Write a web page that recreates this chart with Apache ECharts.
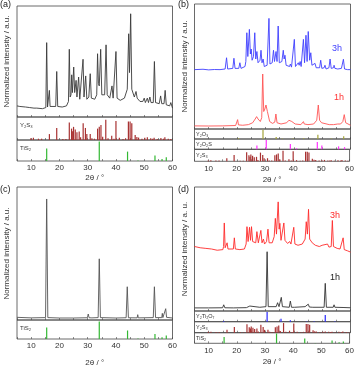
<!DOCTYPE html>
<html><head><meta charset="utf-8">
<script src="https://cdn.jsdelivr.net/npm/echarts@6/dist/echarts.min.js"></script>
<style>html,body{margin:0;padding:0;background:#fff}#c{width:357px;height:368px}</style>
</head><body><div id="c"></div><script>
// ---------- data (2θ in degrees, normalized intensity) ----------
const tickLabels = [10, 20, 30, 40, 50, 60];

const patternA = [[5,10],[6,9.5],[8,9],[9.5,8.5],[9.7,10],[9.9,8.5],[11,8],[12,8],[12.2,9.5],[12.4,7.5],[14,7.5],[15.2,8.5],[15.5,67],[15.8,9],[16.2,9.5],[16.45,24],[16.7,9.5],[18.7,9.5],[19.05,41],[19.4,9.5],[21,9],[22.5,10],[23.2,14],[23.5,61],[23.8,18],[24.1,20],[24.35,38],[24.6,22],[25.06,45],[25.4,22],[25.9,33],[26.2,18],[26.8,36],[27.2,16],[27.8,17],[28.36,52],[28.7,18],[29.3,37],[29.7,16],[30.4,18],[30.9,39],[31.3,17],[32.5,16],[33.2,20],[33.5,57],[33.8,30],[34.1,28],[34.6,61],[35,20],[36,20],[36.5,65],[36.9,20],[37.8,17],[38.6,28],[39,17],[39.7,18],[40.0,59],[40.4,17],[41.5,15],[43,17],[44,25],[44.5,75],[44.8,40],[45.2,93],[45.6,25],[46.5,18],[47.1,23],[47.5,17],[48.5,14],[49.5,14],[50.0,17],[50.4,13],[51.1,17],[51.5,13],[52.0,18],[52.4,13],[53.2,13],[53.6,50],[54,13],[55.3,12],[55.8,19],[56.2,12],[57,12],[57.4,24],[57.8,11],[59,10],[59.4,13],[60,8]];

const patternB3h = [[5,47.5],[8,47.8],[10,47.3],[12,47.6],[14,47.5],[15.8,48],[16.3,57],[16.7,48],[18.5,48.5],[18.9,56.6],[19.3,48.5],[20.6,48.5],[21,53],[21.4,48.5],[22.8,50],[23.1,54],[23.45,77],[23.8,58],[24.35,79.7],[24.7,60],[25,64],[25.3,55],[25.8,58],[26.25,77],[26.6,56],[27,62],[27.4,53],[28.1,55],[28.45,63],[28.8,53],[29.2,56],[29.6,50],[30.6,51],[31.25,88.5],[31.6,52],[32.4,53],[32.85,63],[33.2,54],[33.75,62],[34.1,54],[34.5,82.4],[34.9,53],[35.8,54],[36.3,63],[36.6,56],[36.9,59],[37.3,51],[38.5,50],[38.8,52],[39.2,49.5],[39.8,50],[40.2,71.7],[40.6,50],[41.3,51],[41.6,53],[41.9,51],[42.25,54],[42.6,50],[43.0,51],[43.4,71.7],[43.8,53],[44.3,75],[44.7,54],[45.1,78],[45.6,55],[46.0,61],[46.4,51],[47.1,50],[47.5,52.5],[47.9,49],[49.1,49],[49.5,55],[49.9,48.5],[50.7,49],[51.0,51],[51.4,48],[52.4,49],[52.8,56],[53.2,48.5],[54.0,49],[54.2,51],[54.5,48.5],[55.1,50],[55.5,48],[56.8,48.5],[57.5,55.8],[57.9,48],[59,47.5],[60,47.5]];

const patternB1h = [[5,2.5],[10,2.4],[15,2.5],[19.5,2.8],[19.9,3.5],[20.2,7.5],[20.5,3.3],[22,3],[24,3.5],[25.5,5],[26.4,8],[26.9,9.9],[27.4,8],[28.2,6],[28.7,9],[29.05,44],[29.4,14],[29.8,16],[30.2,19.2],[30.7,14],[31.5,6],[32.5,4.5],[33.3,5.5],[33.7,12],[34.1,5],[35.5,4],[37.5,5],[38.3,7],[38.7,7.5],[39.3,6],[40.5,4],[42.5,3.5],[43.2,4.5],[43.4,5.9],[43.7,4],[45,3.5],[47,4],[48.1,7],[48.65,19.2],[49.1,7],[49.8,5],[50.5,3.8],[52.5,3.5],[53.1,4],[54,3.5],[55.5,4],[56,5],[56.5,4],[57.3,6],[57.8,11.5],[58.3,5],[59,3.5],[60,3]];

const patternC = [[5,2],[10,1.6],[15.1,1.8],[15.5,91],[15.9,1.8],[20,1.5],[25,1.5],[29.9,1.7],[30.2,4.5],[30.5,1.7],[31,1.7],[31.2,2.7],[31.5,1.6],[33.7,1.8],[34.1,46],[34.5,1.8],[40,1.5],[43.6,1.7],[44.0,25],[44.4,1.7],[47.5,1.6],[47.7,4],[47.9,1.6],[53.2,1.8],[53.6,25],[54,1.8],[56.2,1.8],[56.4,5],[56.6,1.8],[57.3,2],[57.6,8.5],[57.9,2],[60,1.5]];

const patternD3h = [[5,52],[7,51],[9,50.5],[11,50],[13,49],[15,49.5],[15.25,52],[15.5,71],[15.8,51],[16.2,50.5],[16.5,55],[16.8,50],[18.7,50],[19.05,59],[19.4,50],[21,49.5],[22.6,50],[23.2,54],[23.5,68],[23.9,56],[24.4,67.5],[24.75,57],[25.1,68],[25.5,56],[26.2,57],[26.6,55],[27.0,64],[27.5,55],[28,56],[28.4,65],[28.8,55],[29.3,58],[29.7,54],[30.4,56],[30.9,66],[31.3,55],[32.4,55],[33.1,60],[33.5,74.7],[33.9,62],[34.5,88],[34.85,66],[35.1,70.7],[35.5,57],[36.1,58],[36.5,71],[36.9,57],[37.8,54.5],[38.6,56],[39.0,54],[39.7,55],[40.0,67.5],[40.4,54],[41.5,53],[43,54],[44,58],[44.4,72],[44.8,62],[45.2,82],[45.6,58],[46.5,55],[47.1,56],[47.6,53],[49,52],[50,53],[50.5,51.5],[51.9,54],[52.4,51.5],[53.2,52],[53.6,73],[54,52],[55.3,50.5],[55.8,52],[56.3,50],[57,50.5],[57.4,59],[57.8,49.5],[59,48.5],[60,47.5]];

const patternD1h = [[5,2.5],[10,2.5],[14.9,2.6],[15.3,5],[15.7,2.6],[18.7,2.5],[19,3.5],[19.3,2.5],[23.3,2.7],[23.6,3.8],[24,2.8],[24.5,4],[25,2.8],[28,3],[28.3,4],[28.6,3],[30.2,3.5],[30.6,47.8],[31.0,3.5],[33.8,3.5],[34.3,6.7],[34.8,3.5],[35.3,4],[35.6,11],[36,3.5],[38.4,3],[38.8,8],[39.2,3],[40.3,3],[44,3.5],[44.4,5],[44.7,3.5],[45.1,5.5],[45.5,3.2],[46.7,3],[47,4],[47.3,3],[50.7,3],[51.1,22.3],[51.5,3],[53.9,3],[54.2,5],[54.5,3],[57.7,2.8],[58.1,3.5],[58.4,2.7],[60,2.6]];

// reference stick patterns (2θ, relative intensity %)
const sticksY2S3 = [[9.9,8],[10.8,10],[12.6,6],[13.7,6],[16.46,27],[19.05,55],[21.2,5],[22.3,4],[23.5,80],[24.3,52],[24.7,40],[25.0,60],[25.6,48],[26.2,35],[27.0,39],[27.5,12],[28.4,76],[29.2,55],[29.7,27],[30.9,27],[31.5,8],[32.4,6],[33.5,52],[34.1,60],[34.7,68],[35.3,15],[36.4,92],[37.2,8],[38.5,19],[39.3,6],[40.0,87],[41.2,10],[42.5,5],[43.4,8],[44.4,84],[45.0,84],[45.6,76],[46.8,23],[47.4,14],[48.0,11],[49.2,6],[50.2,10],[51.1,12],[52.3,8],[53.0,6],[53.5,10],[54.6,5],[55.9,9],[56.8,6],[57.3,12],[58.5,6],[59.4,5]];
const sticksTiS2 = [[15.5,63],[34.1,97],[44.1,47],[47.8,3],[53.8,27],[56.3,10],[57.8,19]];
const sticksY2O3 = [[20.5,8],[29.15,97],[33.8,22],[36.0,4],[39.8,5],[43.5,8],[48.5,45],[53.2,5],[57.6,30]];
const sticksY2O2S = [[27.0,40],[30.3,95],[38.8,55],[41.0,10],[48.3,75],[49.9,40],[55.8,30],[57.9,22]];
const sticksY2Ti2O7 = [[15.3,6],[30.6,95],[35.5,28],[38.8,15],[44.5,4],[47.2,4],[51.1,65],[54.5,4]];

const labelsText = { xName: '2θ / °', yName: 'Normalized intensity / a.u.', yNameD: 'Normalized intensity / a. u.' };

// ---------- layout ----------
const FONT = 'Liberation Sans, Arial, sans-serif';
const grids = [], xAxes = [], yAxes = [], series = [], titles = [];

function addGrid(left, top, width, height, opts) {
  const i = grids.length;
  grids.push({ left, top, width, height, show: true, borderColor: '#444', borderWidth: 0.8, backgroundColor: 'transparent' });
  xAxes.push({
    type: 'value', gridIndex: i, min: 5, max: 60, interval: 5,
    axisLine: { show: false },
    axisTick: { show: true, inside: true, length: 2, lineStyle: { color: '#444', width: 0.6 } },
    splitLine: { show: false },
    axisLabel: {
      show: !!opts.bottom, fontSize: 8, color: '#333', fontFamily: FONT, margin: 3,
      formatter: v => tickLabels.includes(v) ? String(v) : ''
    },
    name: opts.bottom ? labelsText.xName : '', nameLocation: 'middle', nameGap: opts.nameGap || 14,
    nameTextStyle: { fontSize: 8, color: '#333', fontFamily: FONT }
  });
  yAxes.push({
    type: 'value', gridIndex: i, min: 0, max: opts.ymax || 100,
    axisLine: { show: false }, axisTick: { show: false }, axisLabel: { show: false }, splitLine: { show: false },
    name: opts.yname || '', nameLocation: 'middle', nameRotate: 90, nameGap: opts.yGap || 9,
    nameTextStyle: { fontSize: 8, color: '#333', fontFamily: FONT }
  });
  return i;
}
function addLine(g, data, color) {
  series.push({ type: 'line', xAxisIndex: g, yAxisIndex: g, data, showSymbol: false, symbol: 'none',
    lineStyle: { color, width: 0.9 }, z: 3, silent: true });
}
function addSticks(g, data, color) {
  series.push({ type: 'bar', xAxisIndex: g, yAxisIndex: g, data, barWidth: 1.2, itemStyle: { color }, silent: true });
}
function addText(text, left, top, size, color) {
  titles.push({ text, left, top, padding: 0, textStyle: { fontSize: size, fontWeight: 'normal', color: color || '#333', fontFamily: FONT } });
}

const cRed = '#a83232', cGreen = '#33b833', cOlive = '#a5a53a', cMag = '#ff33ff', cBlue = '#2a2aff';

// panel (a)
let g = addGrid(17, 6, 155.5, 111, { yname: labelsText.yName, yGap: 6 }); addLine(g, patternA, '#3a3a3a');
g = addGrid(17, 117, 155.5, 23, { ymax: 105 }); addSticks(g, sticksY2S3, cRed);
g = addGrid(17, 140, 155.5, 21, { ymax: 105, bottom: true, nameGap: 13 }); addSticks(g, sticksTiS2, cGreen);
// panel (b)
g = addGrid(194.5, 4, 156, 125, { yname: labelsText.yName, yGap: 6 }); addLine(g, patternB3h, '#3f3fff'); addLine(g, patternB1h, '#ff5555');
g = addGrid(194.5, 129, 156, 10, { ymax: 105 }); addSticks(g, sticksY2O3, cOlive);
g = addGrid(194.5, 139, 156, 10.3, { ymax: 105 }); addSticks(g, sticksY2O2S, cMag);
g = addGrid(194.5, 149.3, 156, 12, { ymax: 105, bottom: true, nameGap: 14 }); addSticks(g, sticksY2S3, cRed);
// panel (c)
g = addGrid(17, 187, 155.5, 133, { yname: labelsText.yName, yGap: 6 }); addLine(g, patternC, '#555');
g = addGrid(17, 320, 155.5, 23.3, { ymax: 105, bottom: true, nameGap: 20 }); addSticks(g, sticksTiS2, cGreen);
// panel (d)
g = addGrid(194.5, 187, 156, 124, { yname: labelsText.yNameD, yGap: 6 }); addLine(g, patternD3h, '#ff2a2a'); addLine(g, patternD1h, '#333');
g = addGrid(194.5, 311, 156, 10.7, { ymax: 105 }); addSticks(g, sticksY2Ti2O7, cBlue);
g = addGrid(194.5, 321.7, 156, 11, { ymax: 105 }); addSticks(g, sticksY2S3, cRed);
g = addGrid(194.5, 332.7, 156, 10.6, { ymax: 105, bottom: true, nameGap: 14 }); addSticks(g, sticksTiS2, cGreen);

// texts
addText('(a)', 0, 0, 9, '#222'); addText('(b)', 178, 0, 9, '#222');
addText('(c)', 0, 185, 9, '#222'); addText('(d)', 178, 185, 9, '#222');
addText('Y₂S₃', 20, 122, 6); addText('TiS₂', 20, 145, 6);
addText('Y₂O₃', 196, 131, 5.5); addText('Y₂O₂S', 196, 141.5, 5.5); addText('Y₂S₃', 196, 152, 5.5);
addText('TiS₂', 20, 325.5, 6);
addText('Y₂Ti₂O₇', 196, 313, 5.5); addText('Y₂S₃', 196, 324, 5.5); addText('TiS₂', 196, 335, 5.5);
addText('3h', 332, 44, 9, '#3f3fff'); addText('1h', 334, 93, 9, '#ff3333');
addText('3h', 330, 211, 9, '#ff2a2a'); addText('1h', 330, 273, 9, '#222');

const chart = echarts.init(document.getElementById('c'), null, { renderer: 'canvas' });
chart.setOption({ animation: false, backgroundColor: '#fff', title: titles, grid: grids, xAxis: xAxes, yAxis: yAxes, series });
</script></body></html>
